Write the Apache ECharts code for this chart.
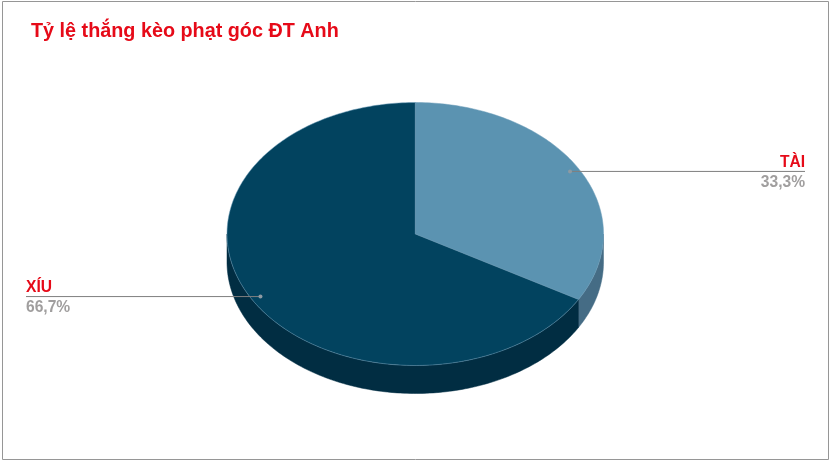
<!DOCTYPE html>
<html><head><meta charset="utf-8">
<style>html,body{margin:0;padding:0;background:#fff}#c{width:832px;height:461px}</style>
<script src="https://cdn.jsdelivr.net/npm/echarts@6/dist/echarts.min.js"></script>
</head><body><div id="c"></div>
<script>
const categories = ['TÀI', 'XÍU'];
const values = [33.3, 66.7];
const percentLabels = ['33,3%', '66,7%'];
const titleText = 'Tỷ lệ thắng kèo phạt góc ĐT Anh';

const topColors = ['#5b93b1', '#02435f'];
const sideColors = ['#456c85', '#012d42'];
const total = values.reduce((a, b) => a + b, 0);
const starts = [];
values.reduce((acc, v, i) => { starts[i] = acc; return acc + v; }, 0);

const chart = echarts.init(document.getElementById('c'), null, { renderer: 'canvas' });
const RAD = Math.PI / 180;
const DEPTH = 2 * 28 / 263;          // rim depth in axis units
const LABEL_R = 0.95;
const labelEndX = [805, 26];

function pt(api, deg, r, dy) {       // deg clockwise from 12 o'clock
  return api.coord([r * Math.sin(deg * RAD), r * Math.cos(deg * RAD) - (dy || 0)]);
}
function slicePoints(api, a0, a1) {
  const pts = [];
  const n = Math.max(2, Math.ceil((a1 - a0) / 1));
  for (let k = 0; k <= n; k++) pts.push(pt(api, a0 + (a1 - a0) * k / n, 1));
  return pts;
}

function renderSide(params, api) {
  const i = params.dataIndex;
  const a0 = Math.max(api.value(1), 90), a1 = Math.min(api.value(2), 270);
  if (a1 <= a0) return null;
  const pts = [];
  const n = Math.ceil(a1 - a0);
  for (let k = 0; k <= n; k++) pts.push(pt(api, a0 + (a1 - a0) * k / n, 1));
  for (let k = n; k >= 0; k--) pts.push(pt(api, a0 + (a1 - a0) * k / n, 1, DEPTH));
  return { type: 'polygon', shape: { points: pts },
    style: { fill: sideColors[i], stroke: sideColors[i], lineWidth: 0.5 } };
}
function renderTop(params, api) {
  const i = params.dataIndex;
  const a0 = api.value(1), a1 = api.value(2);
  const pts = [api.coord([0, 0])].concat(slicePoints(api, a0, a1));
  return { type: 'polygon', shape: { points: pts },
    style: { fill: topColors[i], stroke: '#6c9db8', lineWidth: 0.5 } };
}
function renderLabel(params, api) {
  const i = params.dataIndex;
  const mid = (api.value(1) + api.value(2)) / 2;
  const p = pt(api, mid, LABEL_R);
  const endX = labelEndX[i];
  const right = endX > p[0];
  return { type: 'group', children: [
    { type: 'polyline', shape: { points: [p, [endX, p[1]]] },
      style: { stroke: '#7f7f7f', lineWidth: 1, fill: null } },
    { type: 'circle', shape: { cx: p[0], cy: p[1], r: 2 }, style: { fill: '#8d9aa3' } },
    { type: 'text', x: endX, y: p[1] - 1,
      style: { text: categories[i], fill: '#e60a18', textAlign: right ? 'right' : 'left',
        textVerticalAlign: 'bottom', font: 'bold 15.6px "Liberation Sans"' } },
    { type: 'text', x: endX, y: p[1] + 3,
      style: { text: percentLabels[i], fill: '#a09e9e', textAlign: right ? 'right' : 'left',
        textVerticalAlign: 'top', font: 'bold 15.6px "Liberation Sans"' } }
  ] };
}
const seriesData = values.map((v, i) => [i, starts[i] / total * 360, (starts[i] + v) / total * 360]);
const hiddenAxis = { type: 'value', min: -1, max: 1, show: false };
const enc = { x: 0, y: 1 };

chart.setOption({
  animation: false,
  backgroundColor: '#ffffff',
  title: { text: titleText, left: 26, top: 17,
    textStyle: { color: '#e60a18', fontFamily: 'Liberation Sans', fontWeight: 'bold', fontSize: 19.8 } },
  grid: { left: 227, width: 376.5, top: 102.5, height: 263 },
  xAxis: hiddenAxis,
  yAxis: hiddenAxis,
  graphic: [{ type: 'rect', z: -1, silent: true, shape: { x: 2.5, y: 1.5, width: 826, height: 458 },
    style: { fill: 'none', stroke: '#969696', lineWidth: 1 } }],
  series: [
    { type: 'custom', name: 'side', data: seriesData, renderItem: renderSide, encode: enc, clip: false, z: 1 },
    { type: 'custom', name: 'top', data: seriesData, renderItem: renderTop, encode: enc, clip: false, z: 2 },
    { type: 'custom', name: 'label', data: seriesData, renderItem: renderLabel, encode: enc, clip: false, z: 3 }
  ]
});
</script></body></html>
